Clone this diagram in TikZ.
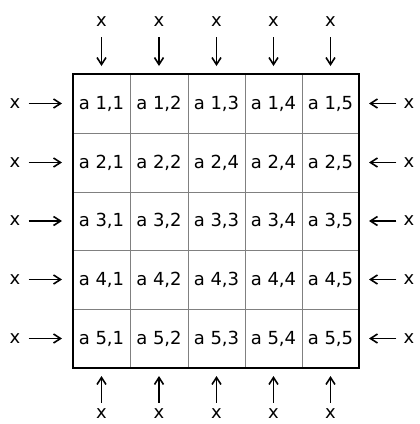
\documentclass[tikz,border=0pt]{standalone}
\usepackage{fontspec}
\setmainfont{DejaVu Sans}
\usetikzlibrary{arrows.meta}
\begin{document}
\begin{tikzpicture}[x=1pt,y=-1pt,
  cell/.style={inner sep=0pt,font=\fontsize{18}{20}\selectfont},
  lab/.style={inner sep=0pt,font=\fontsize{18}{20}\selectfont},
  arr/.style={-{Straight Barb[length=7pt,width=9pt]},line width=1.6pt,draw=black}]
\useasboundingbox (0,0) rectangle (420,424);
% grid
\foreach \x in {130,188,245,302} \draw[gray,line width=1pt] (\x,74) -- (\x,368);
\foreach \y in {133,192,250,309} \draw[gray,line width=1pt] (73,\y) -- (359,\y);
\draw[line width=1.8pt] (73,74) rectangle (359,368);
% cells
\foreach \r/\ry in {1/103.5,2/162.5,3/221,4/279.5,5/338.5}{
  \foreach \c/\cx in {1/101.5,2/159,3/216.5,4/273.5,5/330.5}{
    \ifnum\r=2 \ifnum\c=3
      \node[cell] (a\r\c) at (\cx,\ry) {a 2,4};
    \else
      \node[cell] (a\r\c) at (\cx,\ry) {a \r,\c};
    \fi\else
      \node[cell] (a\r\c) at (\cx,\ry) {a \r,\c};
    \fi
  }
}
% top and bottom
\foreach \c/\cx in {1/101.5,2/159,3/216.5,4/273.5,5/330.5}{
  \node[lab] (t\c) at (\cx,22) {x};
  \coordinate (te\c) at (\cx,66);
  \draw[arr] (t\c.south) ++(0,10) -- (te\c);
  \node[lab] (b\c) at (\cx,414) {x};
  \coordinate (be\c) at (\cx,376);
  \draw[arr] (b\c.north) ++(0,-6) -- (be\c);
}
% sides
\foreach \r/\ry in {1/103.5,2/162.5,3/221,4/279.5,5/338.5}{
  \node[lab] (l\r) at (15,\ry) {x};
  \coordinate (le\r) at (62,\ry);
  \draw[arr] (l\r.east) ++(8,0) -- (le\r);
  \node[lab] (r\r) at (409,\ry) {x};
  \coordinate (re\r) at (369,\ry);
  \draw[arr] (r\r.west) ++(-7,0) -- (re\r);
}
\end{tikzpicture}
\end{document}
